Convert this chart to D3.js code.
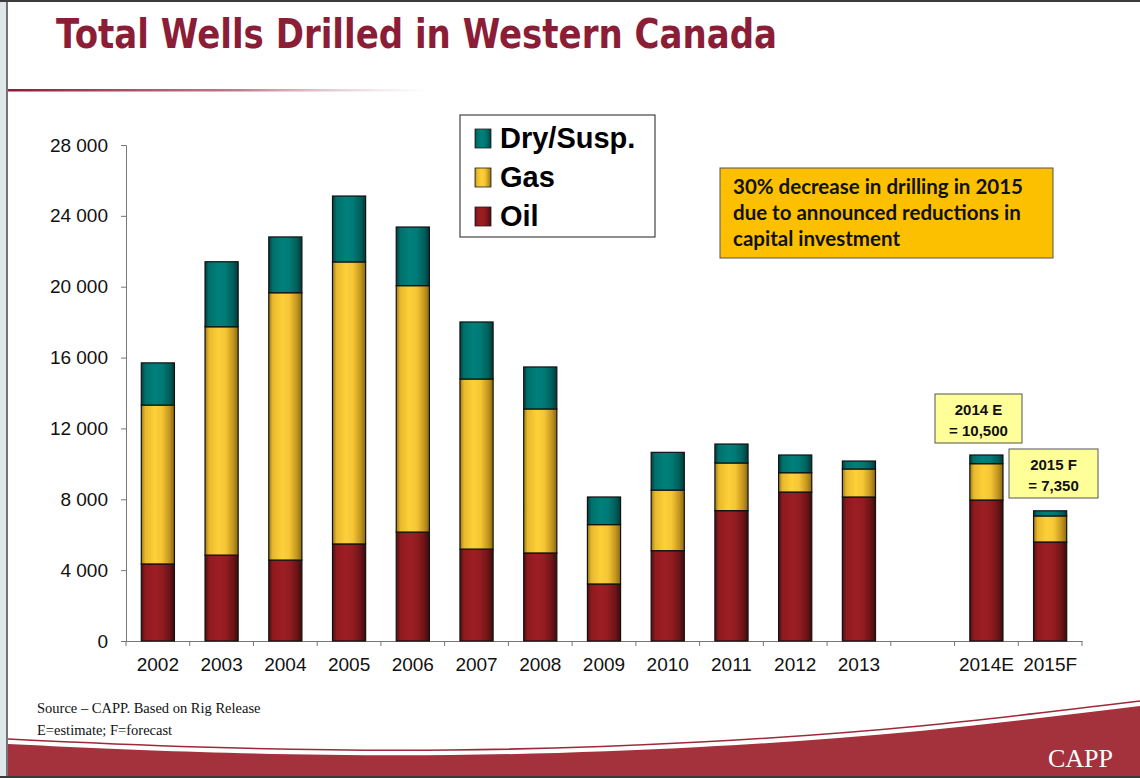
<!DOCTYPE html>
<html>
<head>
<meta charset="utf-8">
<script src="https://cdn.jsdelivr.net/npm/d3@7"></script>
<style>
  body { margin: 0; background: #fff; }
  svg { display: block; }
</style>
</head>
<body>
<div id="chart"></div>
<script>
// data
const years = ["2002","2003","2004","2005","2006","2007","2008","2009","2010","2011","2012","2013","2014E","2015F"];
// one empty slot between 2013 and 2014E
const xSlots = ["2002","2003","2004","2005","2006","2007","2008","2009","2010","2011","2012","2013"," ","2014E","2015F"];
const oil = [4350,4850,4570,5480,6150,5190,4970,3220,5100,7360,8410,8130,7960,5590];
const gas = [8970,12890,15090,15920,13910,9600,8130,3350,3420,2690,1090,1580,2050,1470];
const dry = [2380,3670,3150,3720,3310,3220,2370,1560,2130,1070,1000,450,490,290];
const yTicks = [0,4000,8000,12000,16000,20000,24000,28000];
const seriesKeys = ["oil","gas","dry"];
const legendLabels = {dry: "Dry/Susp.", gas: "Gas", oil: "Oil"};

const W = 1140, H = 778;

const svg = d3.select("#chart").append("svg")
  .attr("width", W)
  .attr("height", H);

const defs = svg.append("defs");

// horizontal shading on the bars
const grads = {
  oil: ["#4d0f12","#8e1a1e","#9c1e22","#931c20","#6c1417","#3e0b0d"],
  gas: ["#9c7817","#e8b92c","#fdd03a","#f6c534","#c2961f","#8a6912"],
  dry: ["#00403e","#00706c","#00807b","#007a76","#005e5a","#003a38"]
};
const gradOffsets = [0, 0.12, 0.4, 0.62, 0.85, 1];
Object.keys(grads).forEach(k => {
  const g = defs.append("linearGradient")
    .attr("id", "g-" + k)
    .attr("x1", 0).attr("x2", 1).attr("y1", 0).attr("y2", 0);
  grads[k].forEach((c, i) => g.append("stop").attr("offset", gradOffsets[i]).attr("stop-color", c));
});

const lineGrad = defs.append("linearGradient")
  .attr("id", "g-rule").attr("x1", 0).attr("x2", 1).attr("y1", 0).attr("y2", 0);
lineGrad.append("stop").attr("offset", 0).attr("stop-color", "#8c1d36").attr("stop-opacity", 1);
lineGrad.append("stop").attr("offset", 0.55).attr("stop-color", "#a0455a").attr("stop-opacity", 0.7);
lineGrad.append("stop").attr("offset", 1).attr("stop-color", "#c9a0aa").attr("stop-opacity", 0);

// slide frame
svg.append("rect").attr("x", 0).attr("y", 0).attr("width", 7).attr("height", H).attr("fill", "#dfe7ea");
svg.append("line").attr("x1", 7).attr("x2", 7).attr("y1", 0).attr("y2", H).attr("stroke", "#4a4a4a").attr("stroke-width", 1.5);
svg.append("rect").attr("x", 0).attr("y", 0).attr("width", W).attr("height", 2).attr("fill", "#3c3c3c");

// title
svg.append("text")
  .attr("x", 56).attr("y", 48)
  .attr("font-family", "DejaVu Sans")
  .attr("font-weight", "bold")
  .attr("font-size", 40)
  .attr("textLength", 721)
  .attr("lengthAdjust", "spacingAndGlyphs")
  .attr("fill", "#8c1d36")
  .text("Total Wells Drilled in Western Canada");

svg.append("rect")
  .attr("x", 8).attr("y", 89).attr("width", 420).attr("height", 2.5)
  .attr("fill", "url(#g-rule)");

// scales
const x = d3.scaleBand()
  .domain(xSlots)
  .range([126, 1082])
  .paddingInner(0.48)
  .paddingOuter(0.24);

const y = d3.scaleLinear()
  .domain([0, 28000])
  .range([641, 145]);

const fmt = d3.formatLocale({decimal: ".", thousands: " ", grouping: [3], currency: ["", ""]}).format(",");

// y axis
const yAxis = svg.append("g")
  .attr("transform", "translate(126,0)")
  .call(d3.axisLeft(y).tickValues(yTicks).tickSize(5).tickPadding(13).tickFormat(fmt));
yAxis.select(".domain").attr("stroke", "#777");
yAxis.selectAll(".tick line").attr("stroke", "#777");
yAxis.selectAll(".tick text")
  .attr("font-family", "Liberation Sans, Arial, sans-serif")
  .attr("font-size", 19)
  .attr("fill", "#111");

// x axis, labels at band centres, ticks at band edges
const xAxis = svg.append("g")
  .attr("transform", "translate(0,641)")
  .call(d3.axisBottom(x).tickSize(0).tickPadding(17).tickSizeOuter(0));
xAxis.select(".domain").attr("stroke", "#777");
xAxis.selectAll(".tick text")
  .attr("font-family", "Liberation Sans, Arial, sans-serif")
  .attr("font-size", 19)
  .attr("fill", "#111");

const step = x.step();
const edges = d3.range(xSlots.length + 1).map(i => x.range()[0] + i * step);
xAxis.selectAll(".edge")
  .data(edges)
  .join("line")
  .attr("class", "edge")
  .attr("x1", d => d).attr("x2", d => d)
  .attr("y1", 0).attr("y2", 5)
  .attr("stroke", "#777");

// stacked bars
const table = years.map((yr, i) => ({year: yr, oil: oil[i], gas: gas[i], dry: dry[i]}));
const stacked = d3.stack().keys(seriesKeys)(table);

svg.append("g")
  .selectAll("g")
  .data(stacked)
  .join("g")
  .attr("fill", d => "url(#g-" + d.key + ")")
  .selectAll("rect")
  .data(d => d)
  .join("rect")
  .attr("x", d => x(d.data.year))
  .attr("y", d => y(d[1]))
  .attr("width", x.bandwidth())
  .attr("height", d => y(d[0]) - y(d[1]))
  .attr("stroke", "#111")
  .attr("stroke-width", 1.2);

// legend
const legend = svg.append("g");
legend.append("rect")
  .attr("x", 460).attr("y", 115).attr("width", 195).attr("height", 122)
  .attr("fill", "#fff").attr("stroke", "#444").attr("stroke-width", 1.2);
const legendOrder = ["dry","gas","oil"];
const legendRows = legend.selectAll(".row")
  .data(legendOrder)
  .join("g")
  .attr("class", "row")
  .attr("transform", (d, i) => `translate(475,${138 + i * 39})`);
legendRows.append("rect")
  .attr("x", 0).attr("y", -9).attr("width", 16).attr("height", 19)
  .attr("fill", d => "url(#g-" + d + ")")
  .attr("stroke", "#222").attr("stroke-width", 0.8);
legendRows.append("text")
  .attr("x", 25).attr("y", 10)
  .attr("font-family", "Liberation Sans, Arial, sans-serif")
  .attr("font-weight", "bold")
  .attr("font-size", 29)
  .attr("fill", "#000")
  .text(d => legendLabels[d]);

// comment box
const note = svg.append("g");
note.append("rect")
  .attr("x", 720).attr("y", 168).attr("width", 333).attr("height", 90)
  .attr("fill", "#fdc000").attr("stroke", "#555").attr("stroke-width", 1);
const noteLines = ["30% decrease in drilling in 2015", "due to announced reductions in", "capital investment"];
note.selectAll("text")
  .data(noteLines)
  .join("text")
  .attr("x", 733)
  .attr("y", (d, i) => 194 + i * 26)
  .attr("font-family", "Lato, Open Sans, sans-serif")
  .attr("font-weight", "bold")
  .attr("font-size", 20.5)
  .attr("fill", "#111")
  .text(d => d);

// total call-outs
const callouts = [
  {year: "2014E", lines: ["2014 E", "= 10,500"], box: [935, 394, 87, 49]},
  {year: "2015F", lines: ["2015 F", "= 7,350"], box: [1009, 449, 89, 49]}
];
callouts.forEach(c => {
  const g = svg.append("g");
  g.append("rect")
    .attr("x", c.box[0]).attr("y", c.box[1]).attr("width", c.box[2]).attr("height", c.box[3])
    .attr("fill", "#ffff99").attr("stroke", "#555").attr("stroke-width", 1);
  g.selectAll("text")
    .data(c.lines)
    .join("text")
    .attr("x", c.box[0] + c.box[2] / 2)
    .attr("y", (d, i) => c.box[1] + 21 + i * 21)
    .attr("text-anchor", "middle")
    .attr("font-family", "Liberation Sans, Arial, sans-serif")
    .attr("font-weight", "bold")
    .attr("font-size", 15)
    .attr("fill", "#111")
    .text(d => d);
});

// footer swoosh
const swoopTop = [[8,744],[200,752],[450,755],[700,747],[920,731],[1140,706]];
const curve = d3.line().curve(d3.curveNatural);
svg.append("path")
  .attr("d", curve(swoopTop) + "L1140,776L8,776Z")
  .attr("fill", "#a3323d");
svg.append("path")
  .attr("d", curve(swoopTop.map(p => [p[0], p[1] - 5])))
  .attr("fill", "none")
  .attr("stroke", "#9c2a38")
  .attr("stroke-width", 1.6);
svg.append("rect").attr("x", 0).attr("y", 776).attr("width", W).attr("height", 2).attr("fill", "#3a3a3a");

svg.append("text")
  .attr("x", 1048).attr("y", 767)
  .attr("font-family", "Liberation Serif, serif")
  .attr("font-size", 26)
  .attr("fill", "#fff")
  .text("CAPP");

// source notes
const notes = ["Source \u2013 CAPP. Based on Rig Release", "E=estimate; F=forecast"];
svg.append("g")
  .selectAll("text")
  .data(notes)
  .join("text")
  .attr("x", 37)
  .attr("y", (d, i) => 713 + i * 22)
  .attr("font-family", "Liberation Serif, Times New Roman, serif")
  .attr("font-size", 14.5)
  .attr("fill", "#111")
  .text(d => d);
</script>
</body>
</html>
